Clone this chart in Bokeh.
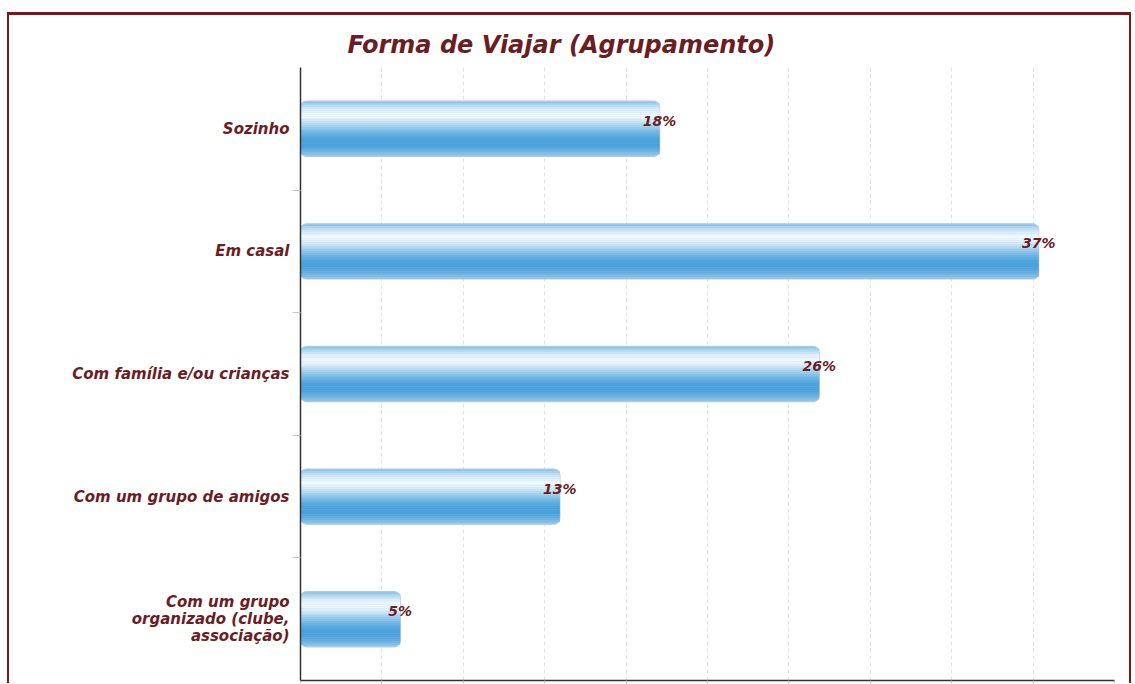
from bokeh.plotting import figure
from bokeh.models import Range1d, FixedTicker, ColumnDataSource
from bokeh.embed import file_html
from bokeh.resources import INLINE
from bokeh.core.properties import value

# ---- data ----
title_text = "Forma de Viajar (Agrupamento)"
categories = ["Sozinho", "Em casal", "Com família e/ou crianças",
              "Com um grupo de amigos", "Com um grupo\norganizado (clube,\nassociação)"]
values = [18, 37, 26, 13, 5]
labels = ["18%", "37%", "26%", "13%", "5%"]

# ---- layout constants ----
n = len(categories)
ys = [n - i for i in range(n)]          # top category at highest y
X_MAX = 40.8
grid_step = X_MAX / 10
DARK_RED = "#6b1d24"
FONT = "DejaVu Sans"

p = figure(width=1124, height=671, output_backend="svg", toolbar_location=None,
           x_range=Range1d(0, X_MAX), y_range=Range1d(0.5, n + 0.5),
           min_border_left=291, min_border_right=19, min_border_top=52,
           min_border_bottom=4)
p.styles = {"border-top": "3px solid #7b1619", "border-left": "2px solid #7b1619",
            "border-right": "2px solid #7b1619", "margin-top": "12px",
            "margin-left": "7px"}
p.outline_line_color = None
p.background_fill_color = "white"

p.title.text = title_text
p.title.text_font = FONT
p.title.text_font_style = "bold italic"
p.title.text_font_size = "24px"
p.title.text_color = DARK_RED
p.title.align = "left"
p.title.offset = 47
p.title.standoff = 18

# grid
p.xgrid.ticker = FixedTicker(ticks=[i * grid_step for i in range(11)])
p.xgrid.grid_line_color = "#e2e2e2"
p.xgrid.grid_line_dash = "4 3"
p.ygrid.grid_line_color = None

# x axis (bottom line only, labels fall outside the visible page)
xticks = [i * grid_step for i in range(11)]
p.xaxis.ticker = FixedTicker(ticks=xticks)
p.xaxis.major_label_overrides = {t: "" for t in xticks}
p.xaxis.major_label_standoff = 0
p.xaxis.axis_line_color = "#333333"
p.xaxis.axis_line_width = 1.5
p.xaxis.major_tick_line_color = "#bbbbbb"
p.xaxis.major_tick_out = 6
p.xaxis.major_tick_in = 0
p.xaxis.minor_tick_line_color = None

# y axis with category labels
p.yaxis.ticker = FixedTicker(ticks=ys, minor_ticks=[k + 0.5 for k in range(1, n)])
p.yaxis.major_label_overrides = {y: c for y, c in zip(ys, categories)}
p.yaxis.major_label_text_font = FONT
p.yaxis.major_label_text_font_style = "bold italic"
p.yaxis.major_label_text_font_size = "15px"
p.yaxis.major_label_text_color = DARK_RED
p.yaxis.major_label_text_line_height = 0.95
p.yaxis.major_label_standoff = 3
p.yaxis.major_tick_line_color = None
p.yaxis.minor_tick_line_color = "#c8c8c8"
p.yaxis.minor_tick_out = 8
p.yaxis.minor_tick_in = 0
p.yaxis.axis_line_color = "#333333"
p.yaxis.axis_line_width = 1.5

# bars: base with rounded corners, then a vertical gradient built from thin stripes
H = 0.45
src = ColumnDataSource(dict(y=ys, v=values, lab=labels))
p.hbar(y="y", right="v", left=0, height=H, source=src, fill_color="#8cc3e8",
       line_color="#b4cad9", line_width=1.2, border_radius=6)

grad_keys = [
    (0.00, (127, 188, 230)),
    (0.06, (169, 212, 240)),
    (0.15, (220, 237, 249)),
    (0.25, (244, 250, 253)),
    (0.33, (226, 240, 250)),
    (0.45, (167, 210, 239)),
    (0.58, (107, 179, 226)),
    (0.68, (76, 163, 220)),
    (0.80, (74, 159, 218)),
    (0.90, (104, 177, 226)),
    (1.00, (156, 203, 235)),
]


def grad_color(f):
    for (f0, c0), (f1, c1) in zip(grad_keys[:-1], grad_keys[1:]):
        if f0 <= f <= f1:
            t = (f - f0) / (f1 - f0)
            r, g, b = (round(a + (bb - a) * t) for a, bb in zip(c0, c1))
            return f"#{r:02x}{g:02x}{b:02x}"
    return "#8cc3e8"


N_STRIPES = 28
top, bot = 0.04, 0.96
step = (bot - top) / N_STRIPES
for k in range(N_STRIPES):
    ft = top + k * step
    fb = ft + step
    off = H * (0.5 - (ft + fb) / 2)
    p.hbar(y=[y + off for y in ys], right=values, left=0.0,
           height=H * step * 1.15, fill_color=grad_color((ft + fb) / 2),
           line_color=None)

p.text(x="v", y="y", text="lab", source=src, text_align="center",
       text_baseline="middle", y_offset=-8,
       text_font=value(FONT), text_font_style="bold italic",
       text_font_size="14px", text_color=DARK_RED)

open("out.html", "w").write(file_html(p, INLINE))
